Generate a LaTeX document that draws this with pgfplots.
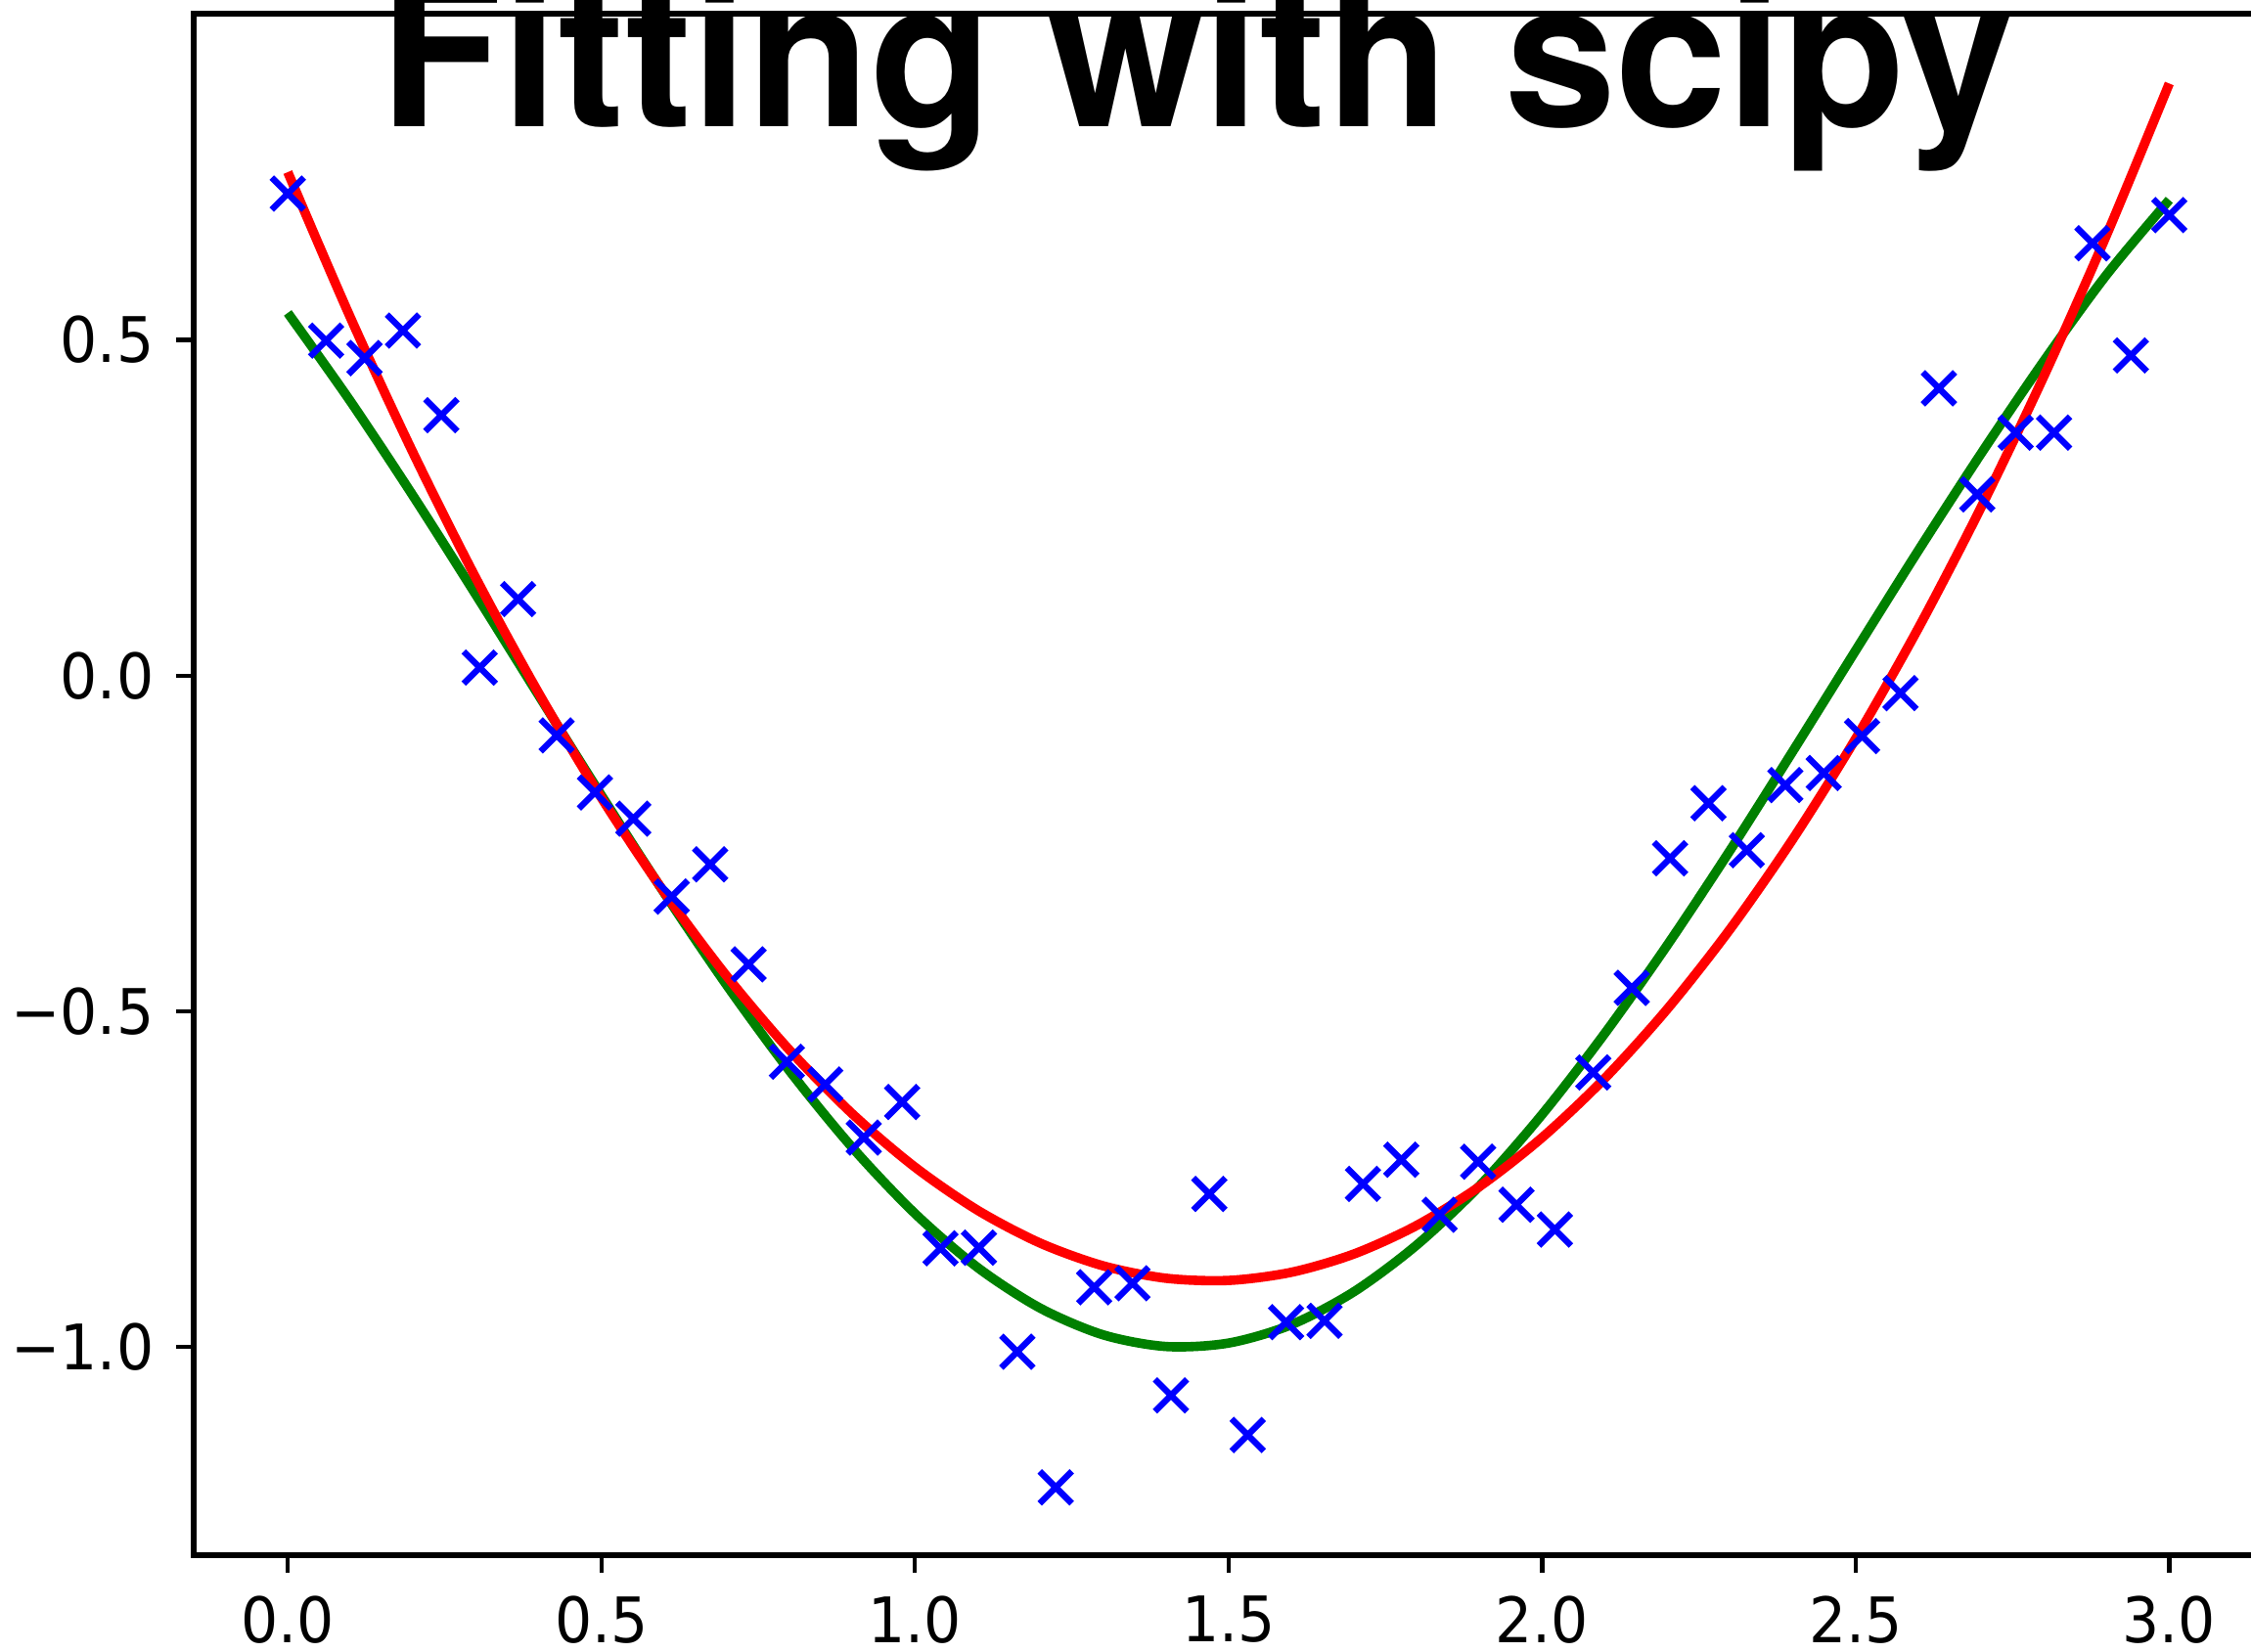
\documentclass[border=0pt]{standalone}
\usepackage{fontspec}
\setmainfont{DejaVu Sans}
\newfontfamily\titlefont{TeX Gyre Heros}
\usepackage{pgfplots}
\pgfplotsset{compat=1.18}
\definecolor{mplgreen}{RGB}{0,128,0}
\newcommand{\tl}[1]{\scalebox{1}[1.07]{#1}}
\begin{document}
\begin{tikzpicture}
\begin{axis}[
  at={(49.5pt,24.75pt)}, anchor=south west,
  scale only axis, width=528.9pt, height=394pt,
  xmin=-0.15, xmax=3.15, ymin=-1.31, ymax=0.986,
  axis line style={line width=1.3pt},
  tick style={line width=1.1pt, black},
  major tick length=4.5pt,
  tick align=outside,
  tick pos=left,
  xtick={0,0.5,1,1.5,2,2.5,3},
  xticklabels={\tl{0.0},\tl{0.5},\tl{1.0},\tl{1.5},\tl{2.0},\tl{2.5},\tl{3.0}},
  ytick={-1,-0.5,0,0.5},
  yticklabels={\tl{−1.0},\tl{−0.5},\tl{0.0},\tl{0.5}},
  ticklabel style={font=\fontsize{15pt}{17pt}\selectfont},
  xticklabel style={anchor=north, inner sep=0pt, yshift=-5.7pt},
  yticklabel style={anchor=east, inner sep=0pt, xshift=-5.5pt},
]
\addplot[only marks, mark=x, mark size=5.8pt, blue, mark options={line width=1.6pt}] coordinates {
(0, 0.718) (0.0612, 0.499) (0.1224, 0.473) (0.1837, 0.514) (0.2449, 0.388)
(0.3061, 0.012) (0.3673, 0.114) (0.4286, -0.089) (0.4898, -0.174) (0.5510, -0.213)
(0.6122, -0.329) (0.6735, -0.281) (0.7347, -0.430) (0.7959, -0.575) (0.8571, -0.609)
(0.9184, -0.688) (0.9796, -0.635) (1.0408, -0.853) (1.1020, -0.852) (1.1633, -1.007)
(1.2245, -1.209) (1.2857, -0.911) (1.3469, -0.905) (1.4082, -1.072) (1.4694, -0.772)
(1.5306, -1.131) (1.5918, -0.963) (1.6531, -0.961) (1.7143, -0.757) (1.7755, -0.721)
(1.8367, -0.803) (1.8980, -0.724) (1.9592, -0.788) (2.0204, -0.825) (2.0816, -0.591)
(2.1429, -0.465) (2.2041, -0.272) (2.2653, -0.190) (2.3265, -0.260) (2.3878, -0.163)
(2.4490, -0.145) (2.5102, -0.090) (2.5714, -0.026) (2.6327, 0.428) (2.6939, 0.270)
(2.7551, 0.362) (2.8163, 0.362) (2.8776, 0.644) (2.9388, 0.477) (3.0, 0.686)
};
\addplot[mplgreen, line width=2.4pt, smooth] coordinates {
(0.0, 0.5403) (0.1, 0.4085) (0.2, 0.2675) (0.3, 0.1205) (0.4, -0.0292)
(0.5, -0.1782) (0.6, -0.3233) (0.7, -0.4611) (0.8, -0.5885) (0.9, -0.7027)
(1.0, -0.8011) (1.1, -0.8816) (1.2, -0.9422) (1.3, -0.9818) (1.4, -0.9992)
(1.5, -0.9941) (1.6, -0.9668) (1.7, -0.9176) (1.8, -0.8481) (1.9, -0.7602)
(2.0, -0.6536) (2.1, -0.5328) (2.2, -0.4008) (2.3, -0.2598) (2.4, -0.1122)
(2.5, 0.0376) (2.6, 0.1865) (2.7, 0.3308) (2.8, 0.4685) (2.9, 0.5971)
(3.0, 0.7087)
};
\addplot[red, line width=2.4pt, smooth] coordinates {
(0.0, 0.750) (0.1, 0.5331) (0.2, 0.3315) (0.3, 0.1452) (0.4, -0.0259)
(0.5, -0.1818) (0.6, -0.3223) (0.7, -0.4476) (0.8, -0.5577) (0.9, -0.6525)
(1.0, -0.7320) (1.1, -0.7963) (1.2, -0.8453) (1.3, -0.8790) (1.4, -0.8975)
(1.5, -0.9008) (1.6, -0.8887) (1.7, -0.8614) (1.8, -0.8189) (1.9, -0.7611)
(2.0, -0.6880) (2.1, -0.5997) (2.2, -0.4961) (2.3, -0.3772) (2.4, -0.2431)
(2.5, -0.0938) (2.6, 0.0709) (2.7, 0.2508) (2.8, 0.4459) (2.9, 0.6563)
(3.0, 0.8820)
};
\end{axis}
\node[anchor=base west, inner sep=0pt, font=\titlefont\bfseries\fontsize{50.7pt}{60pt}\selectfont] at (97pt,389.75pt) {\scalebox{1.01}[1.03]{Fitting with scipy}};
\pgfresetboundingbox
\useasboundingbox (0,0) rectangle (575.25pt,422.25pt);
\end{tikzpicture}
\end{document}
